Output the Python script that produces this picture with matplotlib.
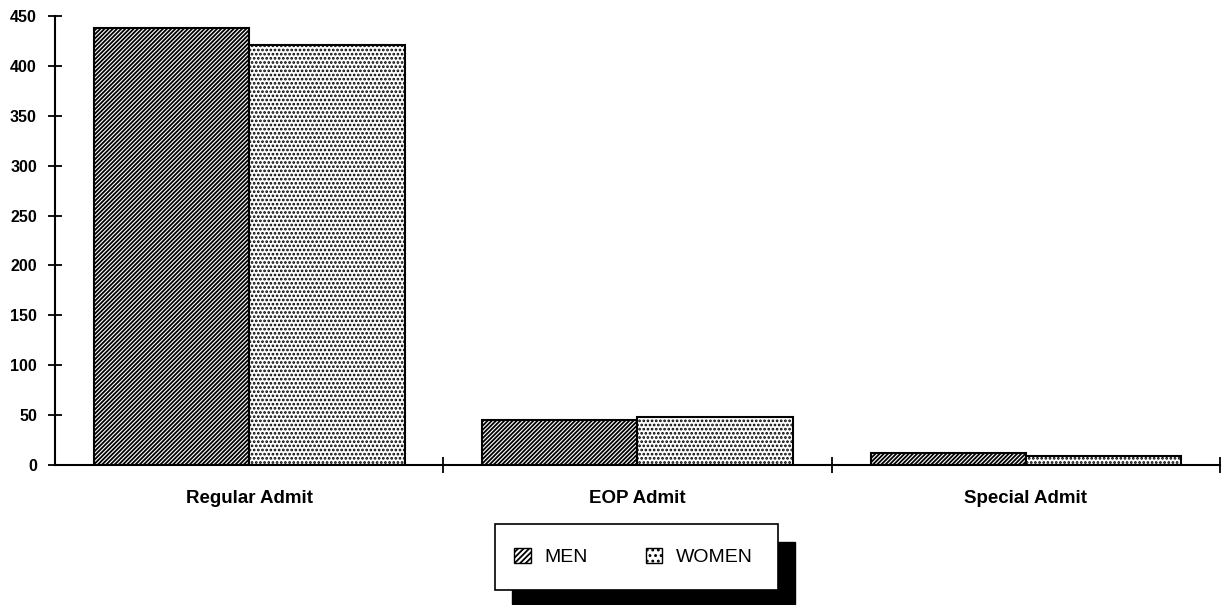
import matplotlib
matplotlib.use("Agg")
import matplotlib.pyplot as plt
from matplotlib.patches import Rectangle
import numpy as np

categories = ["Regular Admit", "EOP Admit", "Special Admit"]
men = [438, 45, 12]
women = [421, 48, 9]
y_ticks = [0, 50, 100, 150, 200, 250, 300, 350, 400, 450]

plt.rcParams['font.family'] = ['Liberation Sans', 'DejaVu Sans']
plt.rcParams['hatch.linewidth'] = 1.3
plt.rcParams['hatch.color'] = 'black'

fig = plt.figure(figsize=(12.25, 6.05), dpi=100)
ax = fig.add_axes([55/1225, 1-465/605, 1165/1225, 449/605])

x = np.arange(len(categories))
w = 0.4
ax.bar(x - w/2, men, w, facecolor='white', edgecolor='black', linewidth=1.5, hatch='////////')
ax.bar(x + w/2, women, w, facecolor='white', edgecolor='black', linewidth=1.5, hatch='....')

ax.set_xlim(-0.5, 2.5)
ax.set_ylim(0, 450)
ax.spines['top'].set_visible(False)
ax.spines['right'].set_visible(False)
ax.spines['left'].set_linewidth(1.5)
ax.spines['bottom'].set_linewidth(1.5)

ax.set_yticks(y_ticks)
ax.set_yticklabels([str(v) for v in y_ticks], fontsize=11.5, fontweight='bold')
ax.tick_params(axis='y', direction='inout', length=10, width=1.3, pad=8)

ax.set_xticks([0.5, 1.5, 2.5])
ax.set_xticklabels([])
ax.tick_params(axis='x', which='major', direction='inout', length=12, width=1.3)
ax.set_xticks(x, minor=True)
ax.set_xticklabels(categories, minor=True, fontsize=13.5, fontweight='semibold')
ax.tick_params(axis='x', which='minor', length=0, pad=18)

# legend box with drop shadow
fig.patches.append(Rectangle((512/1225, 1-604/605), 283/1225, 62/605,
                             transform=fig.transFigure, facecolor='black',
                             edgecolor='black', zorder=1))
fig.patches.append(Rectangle((495/1225, 1-590/605), 283/1225, 66/605,
                             transform=fig.transFigure, facecolor='white',
                             edgecolor='black', linewidth=1.2, zorder=2))
handles = [Rectangle((0, 0), 1, 1, facecolor='white', edgecolor='black', hatch='//////'),
           Rectangle((0, 0), 1, 1, facecolor='white', edgecolor='black', hatch='...')]
leg = fig.legend(handles, ["MEN", "WOMEN"], ncol=2, frameon=False,
                 loc='center left', bbox_to_anchor=(514/1225, 1-557/605),
                 borderaxespad=0, borderpad=0,
                 fontsize=14, handlelength=0.85, handleheight=0.85,
                 handletextpad=0.7, columnspacing=3.0)
leg.set_zorder(3)

fig.savefig("out.png", dpi=100)
